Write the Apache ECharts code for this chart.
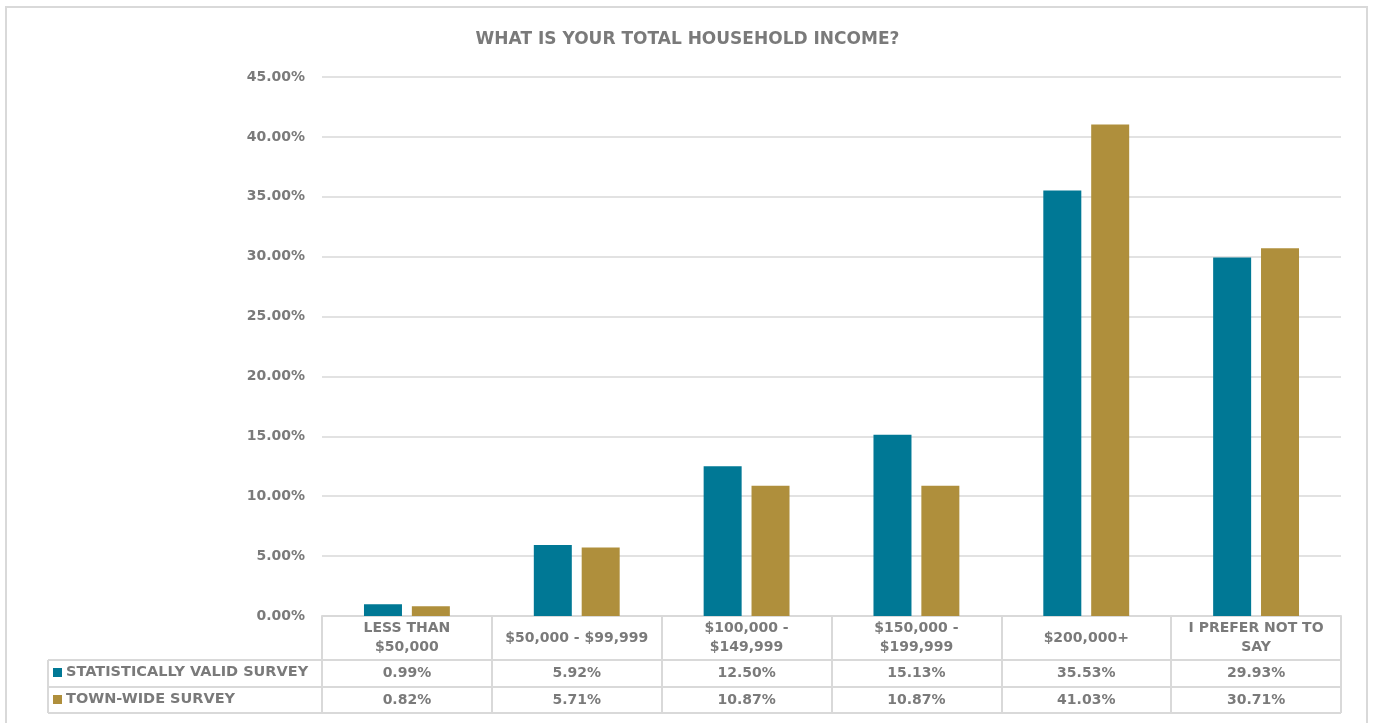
<!DOCTYPE html>
<html>
<head>
<meta charset="utf-8">
<title>What is your total household income?</title>
<script src="https://cdn.jsdelivr.net/npm/echarts@6/dist/echarts.min.js"></script>
<style>
  html, body { margin: 0; padding: 0; background: #fff; }
  #chart { width: 1375px; height: 723px; }
</style>
</head>
<body>
<div id="chart"></div>
<script>
var categories = ['LESS THAN\n$50,000', '$50,000 - $99,999', '$100,000 -\n$149,999', '$150,000 -\n$199,999', '$200,000+', 'I PREFER NOT TO\nSAY'];
var seriesNames = ['STATISTICALLY VALID SURVEY', 'TOWN-WIDE SURVEY'];
var validSurvey = [0.99, 5.92, 12.50, 15.13, 35.53, 29.93];
var townSurvey = [0.82, 5.71, 10.87, 10.87, 41.03, 30.71];
var colors = ['#007895', '#AF8F3C'];

var gray = '#7a7a7a';
var lineColor = '#d9d9d9';
var font = 'DejaVu Sans';

var chart = echarts.init(document.getElementById('chart'), null, { renderer: 'canvas' });

function legendRow(name, top) {
  return {
    data: [name],
    left: 53,
    top: top,
    icon: 'rect',
    itemWidth: 9,
    itemHeight: 9,
    padding: 0,
    selectedMode: false,
    textStyle: { color: gray, fontFamily: font, fontWeight: 'bold', fontSize: 14.5, padding: [0, 0, 0, -1] }
  };
}

var option = {
  animation: false,
  color: colors,
  title: {
    text: 'WHAT IS YOUR TOTAL HOUSEHOLD INCOME?',
    left: 'center',
    top: 26,
    textStyle: { color: gray, fontFamily: font, fontWeight: 'bold', fontSize: 17 }
  },
  legend: [legendRow(seriesNames[0], 665), legendRow(seriesNames[1], 692)],
  grid: { left: 322, right: 34, top: 77, bottom: 107, containLabel: false },
  xAxis: {
    type: 'category',
    data: categories,
    axisLine: { lineStyle: { color: lineColor, width: 2 } },
    axisTick: { show: true, length: 97, lineStyle: { color: lineColor, width: 2 } },
    axisLabel: {
      interval: 0,
      margin: 22,
      verticalAlign: 'middle',
      lineHeight: 19,
      color: gray,
      fontFamily: font,
      fontWeight: 'bold',
      fontSize: 14
    }
  },
  yAxis: {
    type: 'value',
    min: 0,
    max: 45,
    interval: 5,
    axisLine: { show: false },
    axisTick: { show: false },
    splitLine: { lineStyle: { color: lineColor, width: 1.5 } },
    axisLabel: {
      margin: 17,
      color: gray,
      fontFamily: font,
      fontWeight: 'bold',
      fontSize: 14,
      formatter: function (v) { return v.toFixed(2) + '%'; }
    }
  },
  series: [
    { name: seriesNames[0], type: 'bar', data: validSurvey, barWidth: 38, barGap: '26%' },
    { name: seriesNames[1], type: 'bar', data: townSurvey, barWidth: 38, barGap: '26%' }
  ]
};

chart.setOption(option);

// data table under the axis, placed from the axis pixel positions
var y0 = chart.convertToPixel({ yAxisIndex: 0 }, 0);
var c0 = chart.convertToPixel({ xAxisIndex: 0 }, 0);
var c1 = chart.convertToPixel({ xAxisIndex: 0 }, 1);
var band = c1 - c0;
var tableLeft = 48;
var tableRight = chart.convertToPixel({ xAxisIndex: 0 }, categories.length - 1) + band / 2;
var rowTops = [y0 + 44, y0 + 71, y0 + 97];

var graphics = [
  {
    type: 'rect',
    shape: { x: 6, y: 7, width: 1361, height: 730 },
    style: { fill: null, stroke: lineColor, lineWidth: 2 },
    silent: true
  },
  {
    type: 'line',
    shape: { x1: tableLeft, y1: rowTops[0], x2: tableLeft, y2: rowTops[2] },
    style: { stroke: lineColor, lineWidth: 2 }
  }
];
rowTops.forEach(function (y) {
  graphics.push({
    type: 'line',
    shape: { x1: tableLeft, y1: y, x2: tableRight, y2: y },
    style: { stroke: lineColor, lineWidth: 2 }
  });
});
[validSurvey, townSurvey].forEach(function (vals, r) {
  var cy = (rowTops[r] + rowTops[r + 1]) / 2;
  vals.forEach(function (v, i) {
    graphics.push({
      type: 'text',
      x: chart.convertToPixel({ xAxisIndex: 0 }, i),
      y: cy,
      style: {
        text: v.toFixed(2) + '%',
        fill: gray,
        font: 'bold 14px "DejaVu Sans"',
        align: 'center',
        verticalAlign: 'middle'
      }
    });
  });
});

chart.setOption({ graphic: graphics });
</script>
</body>
</html>
